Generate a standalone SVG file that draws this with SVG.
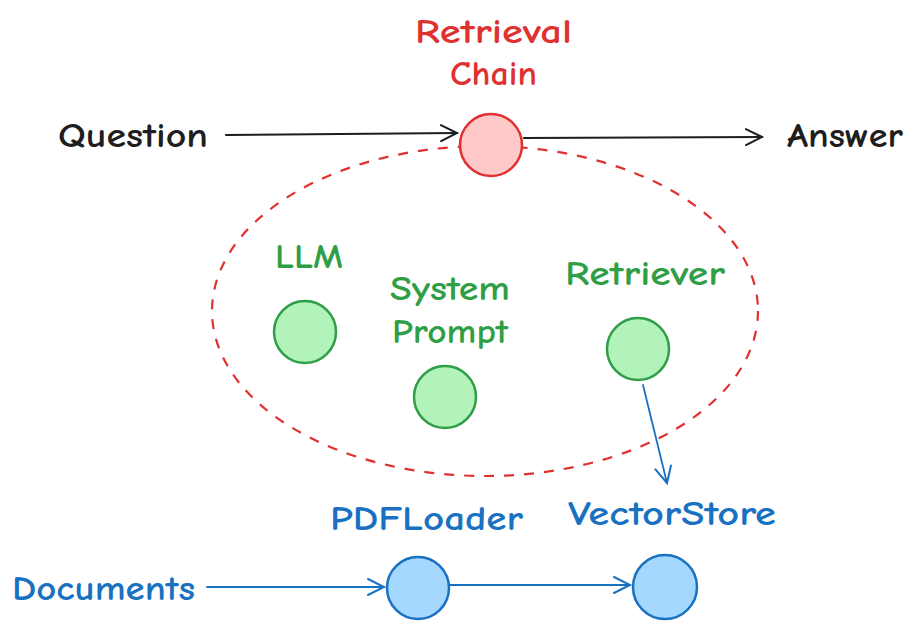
<svg xmlns="http://www.w3.org/2000/svg" width="913" height="630" viewBox="0 0 913 630">
<style>
text{font-family:"Comic Neue","Liberation Sans","DejaVu Sans",sans-serif;font-size:34px;font-weight:bold}
.r{fill:#e03131}.g{fill:#2f9e44}.b{fill:#1971c2}.k{fill:#1e1e1e}
.nr{fill:#ffc9c9;stroke:#e03131;stroke-width:2.5}
.ng{fill:#b2f2bb;stroke:#2f9e44;stroke-width:2.5}
.nb{fill:#a5d8ff;stroke:#1971c2;stroke-width:2.5}
</style>
<defs>
<marker id="ak" markerUnits="userSpaceOnUse" markerWidth="24" markerHeight="24" refX="20" refY="12" orient="auto" viewBox="0 0 24 24"><path d="M4 4 L20 12 L4 20" fill="none" stroke="#1e1e1e" stroke-width="2" stroke-linecap="round"/></marker>
<marker id="ab" markerUnits="userSpaceOnUse" markerWidth="24" markerHeight="24" refX="20" refY="12" orient="auto" viewBox="0 0 24 24"><path d="M4 4 L20 12 L4 20" fill="none" stroke="#1971c2" stroke-width="2" stroke-linecap="round"/></marker>
</defs>
<rect width="913" height="630" fill="#ffffff"/>
<g id="scope">
<ellipse cx="485" cy="311" rx="273" ry="165" fill="none" stroke="#e03131" stroke-width="2.2" stroke-dasharray="10 10"/>
</g>
<g id="connectors" fill="none" stroke-linecap="round">
<path d="M226 135 L457 133" stroke="#1e1e1e" stroke-width="2.2" marker-end="url(#ak)"/>
<path d="M524 138 L762 137" stroke="#1e1e1e" stroke-width="2.2" marker-end="url(#ak)"/>
<path d="M643 385 L667 483" stroke="#1971c2" stroke-width="1.8" marker-end="url(#ab)"/>
<path d="M207 587 L384 587" stroke="#1971c2" stroke-width="1.8" marker-end="url(#ab)"/>
<path d="M450 585 L630 585" stroke="#1971c2" stroke-width="1.8" marker-end="url(#ab)"/>
</g>
<g id="question"><text class="k" x="58" y="147" textLength="150" lengthAdjust="spacingAndGlyphs">Question</text></g>
<g id="answer"><text class="k" x="787" y="147" textLength="116" lengthAdjust="spacingAndGlyphs">Answer</text></g>
<g id="retrieval-chain">
<text class="r" x="415" y="43" textLength="157" lengthAdjust="spacingAndGlyphs">Retrieval</text>
<text class="r" x="450" y="85" textLength="87" lengthAdjust="spacingAndGlyphs">Chain</text>
<circle class="nr" cx="491" cy="145" r="31"/>
</g>
<g id="llm">
<text class="g" x="275" y="268" textLength="68" lengthAdjust="spacingAndGlyphs">LLM</text>
<circle class="ng" cx="305" cy="332" r="31"/>
</g>
<g id="system-prompt">
<text class="g" x="390" y="300" textLength="120" lengthAdjust="spacingAndGlyphs">System</text>
<text class="g" x="392" y="343" textLength="116" lengthAdjust="spacingAndGlyphs">Prompt</text>
<circle class="ng" cx="445" cy="397" r="31"/>
</g>
<g id="retriever">
<text class="g" x="565" y="285" textLength="160" lengthAdjust="spacingAndGlyphs">Retriever</text>
<circle class="ng" cx="638" cy="349" r="31"/>
</g>
<g id="documents"><text class="b" x="12" y="600" textLength="183" lengthAdjust="spacingAndGlyphs">Documents</text></g>
<g id="pdfloader">
<text class="b" x="330" y="530" textLength="193" lengthAdjust="spacingAndGlyphs">PDFLoader</text>
<circle class="nb" cx="418" cy="588" r="31"/>
</g>
<g id="vectorstore">
<text class="b" x="568" y="525" textLength="208" lengthAdjust="spacingAndGlyphs">VectorStore</text>
<circle class="nb" cx="665" cy="587" r="32"/>
</g>
</svg>
